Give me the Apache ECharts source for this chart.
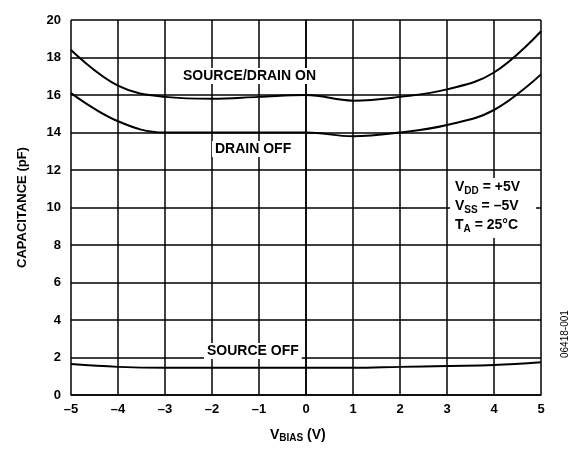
<!DOCTYPE html>
<html>
<head>
<meta charset="utf-8">
<script src="https://cdn.jsdelivr.net/npm/echarts@6/dist/echarts.min.js"></script>
<style>html,body{margin:0;background:#fff}#c{width:576px;height:458px}</style>
</head>
<body>
<div id="c"></div>
<script>
var vbias = [-5, -4, -3, -2, -1, 0, 1, 2, 3, 4, 5];
var sourceDrainOn = [18.4, 16.5, 15.9, 15.8, 15.9, 16.0, 15.7, 15.9, 16.3, 17.2, 19.4];
var drainOff = [16.1, 14.6, 14.0, 14.0, 14.0, 14.0, 13.8, 14.0, 14.4, 15.2, 17.1];
var sourceOff = [1.65, 1.5, 1.45, 1.45, 1.45, 1.45, 1.45, 1.5, 1.55, 1.6, 1.75];

function pairs(ys) {
  return vbias.map(function (x, i) { return [x, ys[i]]; });
}

var chart = echarts.init(document.getElementById("c"));
var font = "Liberation Sans";
var lineStyle = { color: "#000", width: 2 };
var lbl = function (text, x, y) {
  return {
    type: "text", left: x, top: y, z: 100,
    style: { text: text, font: "bold 14px " + font, fill: "#000", backgroundColor: "#fff", padding: [1, 3] }
  };
};

chart.setOption({
  animation: false,
  grid: { left: 71, right: 35, top: 20, bottom: 63 },
  xAxis: {
    type: "value", min: -5, max: 5, interval: 1,
    axisLine: { lineStyle: { color: "#000", width: 1.5 } },
    axisTick: { show: false },
    splitLine: { lineStyle: { color: "#000", width: 1.5 } },
    axisLabel: {
      color: "#000", fontFamily: font, fontWeight: "bold", fontSize: 13, margin: 8,
      formatter: function (v) { return v < 0 ? "\u2013" + (-v) : String(v); }
    }
  },
  yAxis: {
    type: "value", min: 0, max: 20, interval: 2,
    name: "CAPACITANCE (pF)", nameLocation: "middle", nameGap: 42,
    nameTextStyle: { color: "#000", fontFamily: font, fontWeight: "bold", fontSize: 13 },
    axisLine: { show: true, lineStyle: { color: "#000", width: 1.5 } },
    axisTick: { show: false },
    splitLine: { lineStyle: { color: "#000", width: 1.5 } },
    axisLabel: { color: "#000", fontFamily: font, fontWeight: "bold", fontSize: 13, margin: 10 }
  },
  series: [
    { type: "line", smooth: 0.4, symbol: "none", lineStyle: lineStyle, data: pairs(sourceDrainOn), z: 3 },
    { type: "line", smooth: 0.4, symbol: "none", lineStyle: lineStyle, data: pairs(drainOff), z: 3 },
    { type: "line", smooth: 0.4, symbol: "none", lineStyle: lineStyle, data: pairs(sourceOff), z: 3 }
  ],
  graphic: [
    lbl("SOURCE/DRAIN ON", 180, 68),
    lbl("DRAIN OFF", 212, 141),
    lbl("SOURCE OFF", 204, 343),
    {
      type: "rect", left: 450, top: 178, z: 99, shape: { width: 86, height: 60 }, style: { fill: "#fff" }
    },
    {
      type: "text", left: 455, top: 180, z: 100,
      style: {
        text: "{m|V}{s|DD}{m| = +5V}\n{m|V}{s|SS}{m| = \u20135V}\n{m|T}{s|A}{m| = 25°C}",
        rich: {
          m: { font: "bold 14px " + font, fill: "#000", lineHeight: 19 },
          s: { font: "bold 10px " + font, fill: "#000", verticalAlign: "bottom", padding: [6, 0, 0, 0], lineHeight: 19 }
        }
      }
    },
    {
      type: "text", left: 270, top: 428,
      style: {
        text: "{m|V}{s|BIAS}{m| (V)}",
        rich: {
          m: { font: "bold 14px " + font, fill: "#000" },
          s: { font: "bold 10px " + font, fill: "#000", padding: [6, 0, 0, 0] }
        }
      }
    },
    {
      type: "text", x: 560, y: 358, rotation: Math.PI / 2,
      style: { text: "06418-001", font: "10px " + font, fill: "#000", textAlign: "left" }
    }
  ]
});
</script>
</body>
</html>
